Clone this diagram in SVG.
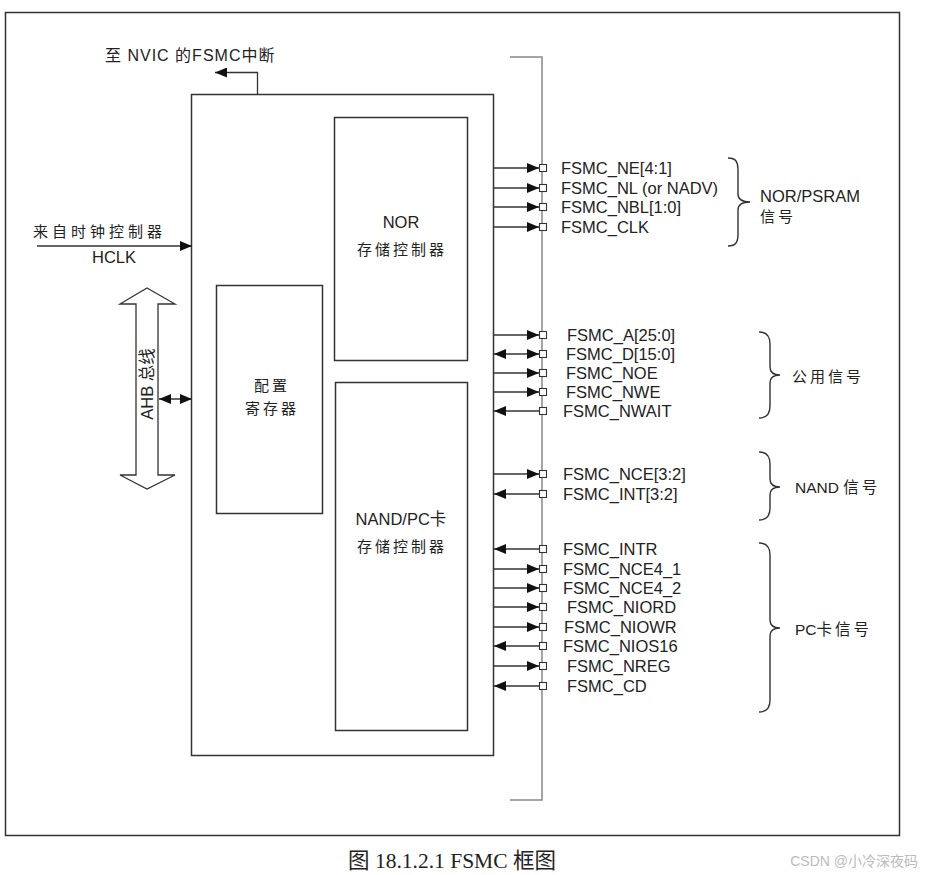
<svg xmlns="http://www.w3.org/2000/svg" width="925" height="875" viewBox="0 0 925 875">
<style>
.t{font-family:"Liberation Sans","Noto Sans CJK SC",Arial,sans-serif;fill:#222;}
.sig{font-size:16.5px;}
.cjk{font-family:"Liberation Sans","Noto Sans CJK SC",sans-serif;fill:#222;font-size:15px;letter-spacing:3px;}
.box{fill:#fff;stroke:#333;stroke-width:1.5;}
.ln{stroke:#333;stroke-width:1.3;fill:none;}
.bus{stroke:#888;stroke-width:1.5;fill:none;}
.sq{fill:#fff;stroke:#333;stroke-width:1.1;}
.brace{stroke:#333;stroke-width:1.4;fill:none;}
.out{marker-end:url(#ah);}
.bi{marker-end:url(#ah);marker-start:url(#ah);}
</style>
<defs>
<marker id="ah" viewBox="0 0 12 10" refX="12" refY="5" markerWidth="12" markerHeight="10" markerUnits="userSpaceOnUse" orient="auto-start-reverse">
<path d="M0,0 L12,5 L0,10 z" fill="#111"/>
</marker>
</defs>
<rect x="0" y="0" width="925" height="875" fill="#fff"/>
<rect x="5.5" y="12.5" width="894" height="823" fill="none" stroke="#333" stroke-width="1.5"/>

<g id="fsmc">
<rect class="box" x="191.5" y="94.5" width="302" height="661"/>
</g>
<g id="nor">
<rect class="box" x="334.5" y="117.5" width="133" height="243"/>
<text class="t sig" x="401" y="228" text-anchor="middle" font-size="16">NOR</text>
<text class="cjk" x="402" y="255" text-anchor="middle">存储控制器</text>
</g>
<g id="nand">
<rect class="box" x="335.5" y="382.5" width="132" height="348"/>
<text class="t" x="401" y="525" text-anchor="middle" font-size="16.5">NAND/PC卡</text>
<text class="cjk" x="402" y="552" text-anchor="middle">存储控制器</text>
</g>
<g id="config">
<rect class="box" x="216.5" y="285.5" width="106" height="228"/>
<text class="cjk" x="272" y="391" text-anchor="middle">配置</text>
<text class="cjk" x="272" y="414" text-anchor="middle">寄存器</text>
</g>

<g id="bus">
<path class="bus" d="M510,57 H542 V800 H510"/>
</g>

<g id="ahb">
<path d="M147,288 L175,304 L158,304 L158,475 L175,475 L147,489 L120,475 L136,475 L136,304 L120,304 Z" fill="#fff" stroke="#333" stroke-width="1.3"/>
<text class="t" font-size="16.5" transform="translate(152.5,384) rotate(-90)" text-anchor="middle">AHB 总线</text>
</g>

<g id="labels-left">
<text class="cjk" x="33" y="237" style="letter-spacing:4px">来自时钟控制器</text>
<text class="t" x="92" y="263" font-size="16.5">HCLK</text>
<text class="t" x="105" y="61" font-size="16" letter-spacing="1">至 NVIC 的FSMC中断</text>
</g>

<g id="connectors">
<line class="ln out" x1="37" y1="246" x2="192" y2="246"/>
<line class="ln bi" x1="159" y1="399" x2="192" y2="399"/>
<path class="ln out" d="M257.5,94 V72.5 H215"/>

<line class="ln out" x1="494" y1="168" x2="539" y2="168"/>
<line class="ln out" x1="494" y1="188" x2="539" y2="188"/>
<line class="ln out" x1="494" y1="207" x2="539" y2="207"/>
<line class="ln out" x1="494" y1="227" x2="539" y2="227"/>

<line class="ln out" x1="494" y1="335" x2="539" y2="335"/>
<line class="ln bi" x1="494" y1="354" x2="539" y2="354"/>
<line class="ln out" x1="494" y1="373" x2="539" y2="373"/>
<line class="ln out" x1="494" y1="392" x2="539" y2="392"/>
<line class="ln out" x1="539" y1="411" x2="494" y2="411"/>

<line class="ln out" x1="494" y1="474" x2="539" y2="474"/>
<line class="ln out" x1="539" y1="494" x2="494" y2="494"/>

<line class="ln out" x1="539" y1="549" x2="494" y2="549"/>
<line class="ln out" x1="494" y1="569" x2="539" y2="569"/>
<line class="ln out" x1="494" y1="588" x2="539" y2="588"/>
<line class="ln out" x1="494" y1="607" x2="539" y2="607"/>
<line class="ln out" x1="494" y1="627" x2="539" y2="627"/>
<line class="ln out" x1="539" y1="646" x2="494" y2="646"/>
<line class="ln out" x1="494" y1="666" x2="539" y2="666"/>
<line class="ln out" x1="539" y1="686" x2="494" y2="686"/>
</g>

<g id="pins">
<rect class="sq" x="539.5" y="164.5" width="7" height="7"/>
<rect class="sq" x="539.5" y="184.5" width="7" height="7"/>
<rect class="sq" x="539.5" y="203.5" width="7" height="7"/>
<rect class="sq" x="539.5" y="223.5" width="7" height="7"/>
<rect class="sq" x="539.5" y="331.5" width="7" height="7"/>
<rect class="sq" x="539.5" y="350.5" width="7" height="7"/>
<rect class="sq" x="539.5" y="369.5" width="7" height="7"/>
<rect class="sq" x="539.5" y="388.5" width="7" height="7"/>
<rect class="sq" x="539.5" y="407.5" width="7" height="7"/>
<rect class="sq" x="539.5" y="470.5" width="7" height="7"/>
<rect class="sq" x="539.5" y="490.5" width="7" height="7"/>
<rect class="sq" x="539.5" y="545.5" width="7" height="7"/>
<rect class="sq" x="539.5" y="565.5" width="7" height="7"/>
<rect class="sq" x="539.5" y="584.5" width="7" height="7"/>
<rect class="sq" x="539.5" y="603.5" width="7" height="7"/>
<rect class="sq" x="539.5" y="623.5" width="7" height="7"/>
<rect class="sq" x="539.5" y="642.5" width="7" height="7"/>
<rect class="sq" x="539.5" y="662.5" width="7" height="7"/>
<rect class="sq" x="539.5" y="682.5" width="7" height="7"/>
</g>

<g id="signal-labels" class="t sig">
<text x="561" y="174">FSMC_NE[4:1]</text>
<text x="561" y="194">FSMC_NL (or NADV)</text>
<text x="561" y="213">FSMC_NBL[1:0]</text>
<text x="561" y="233">FSMC_CLK</text>
<text x="567" y="341">FSMC_A[25:0]</text>
<text x="566" y="360">FSMC_D[15:0]</text>
<text x="566" y="379">FSMC_NOE</text>
<text x="566" y="398">FSMC_NWE</text>
<text x="563" y="417">FSMC_NWAIT</text>
<text x="563" y="480">FSMC_NCE[3:2]</text>
<text x="563" y="500">FSMC_INT[3:2]</text>
<text x="563" y="555">FSMC_INTR</text>
<text x="563" y="575">FSMC_NCE4_1</text>
<text x="563" y="594">FSMC_NCE4_2</text>
<text x="567" y="613">FSMC_NIORD</text>
<text x="564" y="633">FSMC_NIOWR</text>
<text x="563" y="652">FSMC_NIOS16</text>
<text x="567" y="672">FSMC_NREG</text>
<text x="567" y="692">FSMC_CD</text>
</g>

<g id="group-nor">
<path class="brace" d="M728,158 C736,158 738,162 738,170 L738,194 C738,199 742,202 750,202 C742,202 738,205 738,210 L738,234 C738,242 736,246 728,246"/>
<text class="t" x="760" y="202" font-size="16.5">NOR/PSRAM</text>
<text class="cjk" x="760" y="222">信号</text>
</g>
<g id="group-common">
<path class="brace" d="M759,332 C767,332 770,336 770,344 L770,367 C770,372 773,375 780,375 C773,375 770,378 770,383 L770,406 C770,414 767,418 759,418"/>
<text class="cjk" x="792" y="382">公用信号</text>
</g>
<g id="group-nand">
<path class="brace" d="M759,452 C767,452 770,456 770,464 L770,479 C770,484 773,487 780,487 C773,487 770,490 770,495 L770,508 C770,516 767,520 759,520"/>
<text class="t" x="795" y="493" font-size="15.5">NAND <tspan style="letter-spacing:3px">信号</tspan></text>
</g>
<g id="group-pc">
<path class="brace" d="M759,543 C767,543 770,547 770,555 L770,620 C770,625 773,628 780,628 C773,628 770,631 770,636 L770,700 C770,708 767,712 759,712"/>
<text class="t" x="795" y="635" font-size="15.5">PC<tspan style="letter-spacing:3px">卡信号</tspan></text>
</g>

<text x="452" y="868" text-anchor="middle" font-family="'Liberation Serif','Noto Sans CJK SC',serif" font-size="21.5" fill="#222">图 18.1.2.1 FSMC 框图</text>
<text x="918" y="866" text-anchor="end" font-family="'Liberation Sans','Noto Sans CJK SC',sans-serif" font-size="14" fill="#bbb">CSDN @小冷深夜码</text>
</svg>
